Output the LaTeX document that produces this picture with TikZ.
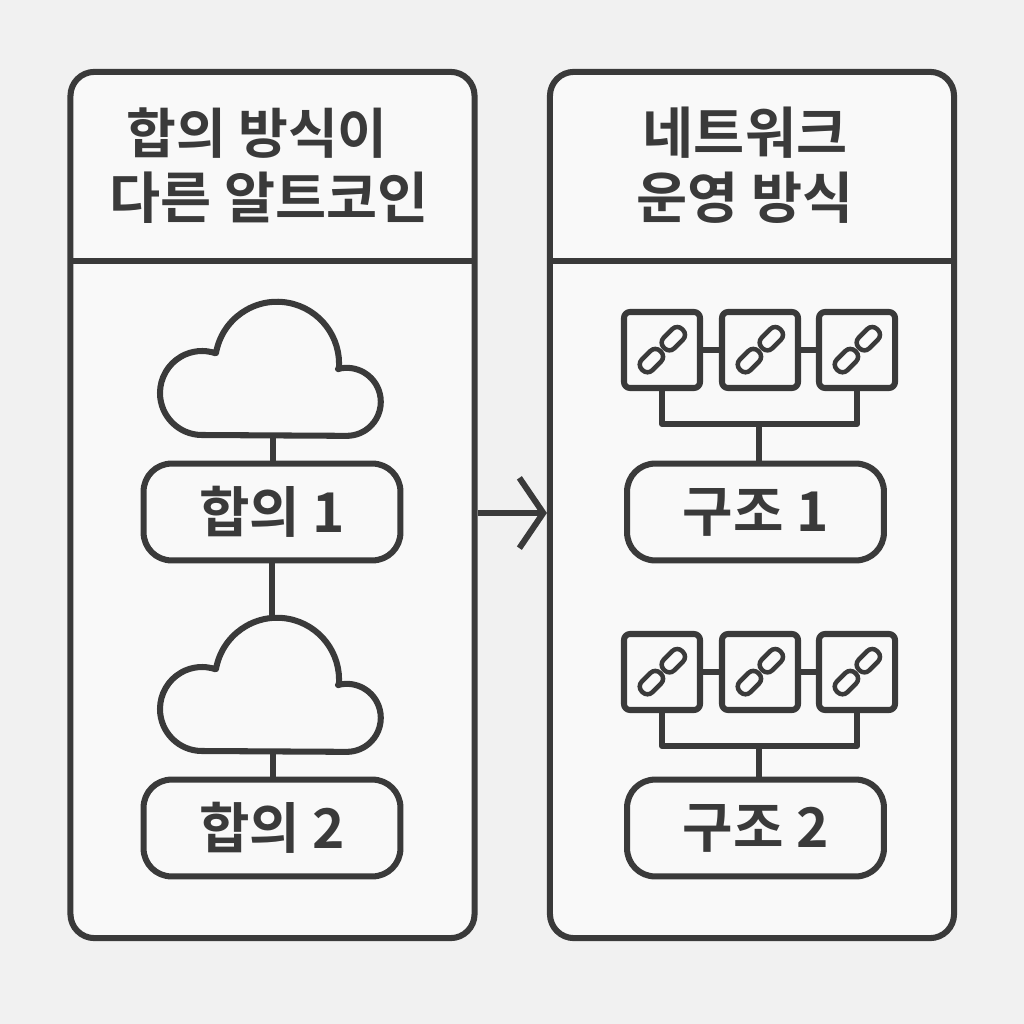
\documentclass[tikz,border=0pt]{standalone}
\usepackage{fontspec}
\setmainfont{Noto Sans CJK KR Medium}
\newfontfamily\boldko{Noto Sans CJK KR Bold}
\usetikzlibrary{arrows.meta}
\definecolor{ink}{HTML}{3A3A3A}
\definecolor{paper}{HTML}{F1F1F1}
\definecolor{panelfill}{HTML}{F9F9F9}
\tikzset{
	wire/.style={draw=ink,line width=4.3pt,line join=round},
	panel/.style={wire,fill=panelfill,rectangle,rounded corners=0.6cm,minimum width=10.1cm,minimum height=21.65cm,inner sep=0pt},
	titlebox/.style={rectangle,wire,rounded corners=0.7cm,minimum width=6.42cm,minimum height=2.42cm,font=\boldko\fontsize{39pt}{39pt}\selectfont,text=ink},
	heading/.style={text=ink,inner sep=0pt,font=\boldko\fontsize{39.5pt}{40pt}\selectfont},
	linkbox/.style={wire,rectangle,fill=panelfill,rounded corners=0.15cm,minimum size=1.9cm,inner sep=0pt},
	cloudicon/.pic={
		\draw[wire,fill=panelfill] (-71,0) arc (90:289:42) -- (-57,-82) arc (190:365:62) -- (65,-66) arc (255:450:34) -- cycle;
	},
	linkicon/.pic={
		\draw[draw=ink,line width=3.2pt,rounded corners=0.17cm,rotate=45,shift={(16,0)}] (-13,-7.5) rectangle (13,7.5);
		\draw[draw=ink,line width=3.2pt,rounded corners=0.17cm,rotate=45,shift={(-15,0)}] (-13,-7.5) rectangle (13,7.5);
	}
}
\begin{document}
\begin{tikzpicture}[x=0.025cm,y=-0.025cm]
	\fill[paper] (0,0) rectangle (1024,1024);
	\useasboundingbox (0,0) rectangle (1024,1024);

	% the two panels
	\node[panel] (panelL) at (272.5,505) {};
	\node[panel] (panelR) at (752,505) {};
	\coordinate (ruleL) at (70,261);
	\coordinate (ruleR) at (550,261);
	\draw[wire,shorten >=2pt] (ruleL) -- (ruleL -| panelL.east);
	\draw[wire,shorten >=2pt] (ruleR) -- (ruleR -| panelR.east);
	\draw[wire,-{Straight Barb[length=17pt,width=50pt,line width=4.3pt]}] (panelL.east |- 0,513) -- (panelR.west |- 0,513);

	\node[heading,font=\boldko\fontsize{38.5pt}{40pt}\selectfont] (headL1) at (257,133) {합의 방식이};
	\node[heading] (headL2) at (269,198) {다른 알트코인};
	\node[heading] (headR1) at (745,133) {네트워크};
	\node[heading] (headR2) at (745,198) {운영 방식};

	% left side
	\node[titlebox] (hapA) at (272,512) {합의 1};
	\node[titlebox] (hapB) at (272,828) {합의 2};
	\pic at (273,435) {cloudicon};
	\pic at (273,751) {cloudicon};
	\coordinate (cloudA) at (273,435);
	\coordinate (cloudB) at (272,617);
	\coordinate (cloudC) at (273,751);
	\draw[wire] (cloudA) -- (cloudA |- hapA.north);
	\draw[wire] (hapA.south) -- (cloudB);
	\draw[wire] (cloudC) -- (cloudC |- hapB.north);

	% right side
	\node[titlebox] (guA) at (755.5,512) {구조 1};
	\node[titlebox] (guB) at (755.5,828) {구조 2};
	\node[linkbox] (linkA1) at (662,350) {};
	\node[linkbox] (linkA2) at (760,350) {};
	\node[linkbox] (linkA3) at (857,350) {};
	\node[linkbox] (linkB1) at (662,672) {};
	\node[linkbox] (linkB2) at (760,672) {};
	\node[linkbox] (linkB3) at (857,672) {};
	\foreach \nm in {linkA1,linkA2,linkA3,linkB1,linkB2,linkB3}
		\pic at (\nm) {linkicon};
	\draw[wire] (linkA1) -- (linkA2);
	\draw[wire] (linkA2) -- (linkA3);
	\draw[wire] (linkB1) -- (linkB2);
	\draw[wire] (linkB2) -- (linkB3);
	\coordinate (busA) at (759,424);
	\coordinate (busB) at (759,746);
	\draw[wire] (linkA1.south) |- (busA) -| (linkA3.south);
	\draw[wire] (linkB1.south) |- (busB) -| (linkB3.south);
	\draw[wire] (busA) -- (busA |- guA.north);
	\draw[wire] (busB) -- (busB |- guB.north);
\end{tikzpicture}
\end{document}
